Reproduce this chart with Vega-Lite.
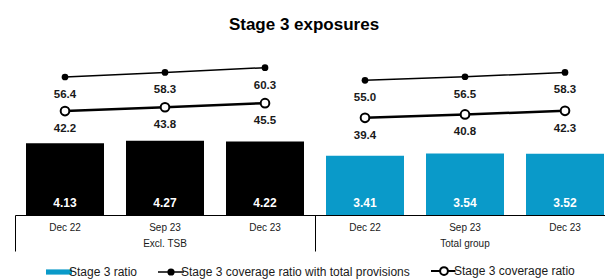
{
  "$schema": "https://vega.github.io/schema/vega-lite/v6.json",
  "width": 600,
  "height": 174,
  "padding": {"left": 14, "top": 16, "right": 0, "bottom": 0},
  "background": "white",
  "title": {"text": "Stage 3 exposures", "fontSize": 17, "font": "Liberation Sans", "fontWeight": "bold", "color": "#000000", "anchor": "middle", "dx": -11, "offset": 7},
  "config": {"view": {"stroke": null}, "font": "Liberation Sans"},
  "data": {"values": [
    {"bar": "Excl. TSB Dec 22", "group": "Excl. TSB", "series": "Stage 3 ratio", "value": 4.13},
    {"bar": "Excl. TSB Sep 23", "group": "Excl. TSB", "series": "Stage 3 ratio", "value": 4.27},
    {"bar": "Excl. TSB Dec 23", "group": "Excl. TSB", "series": "Stage 3 ratio", "value": 4.22},
    {"bar": "Total group Dec 22", "group": "Total group", "series": "Stage 3 ratio", "value": 3.41},
    {"bar": "Total group Sep 23", "group": "Total group", "series": "Stage 3 ratio", "value": 3.54},
    {"bar": "Total group Dec 23", "group": "Total group", "series": "Stage 3 ratio", "value": 3.52},
    {"bar": "Excl. TSB Dec 22", "group": "Excl. TSB", "series": "Stage 3 coverage ratio with total provisions", "value": 56.4},
    {"bar": "Excl. TSB Sep 23", "group": "Excl. TSB", "series": "Stage 3 coverage ratio with total provisions", "value": 58.3},
    {"bar": "Excl. TSB Dec 23", "group": "Excl. TSB", "series": "Stage 3 coverage ratio with total provisions", "value": 60.3},
    {"bar": "Total group Dec 22", "group": "Total group", "series": "Stage 3 coverage ratio with total provisions", "value": 55.0},
    {"bar": "Total group Sep 23", "group": "Total group", "series": "Stage 3 coverage ratio with total provisions", "value": 56.5},
    {"bar": "Total group Dec 23", "group": "Total group", "series": "Stage 3 coverage ratio with total provisions", "value": 58.3},
    {"bar": "Excl. TSB Dec 22", "group": "Excl. TSB", "series": "Stage 3 coverage ratio", "value": 42.2},
    {"bar": "Excl. TSB Sep 23", "group": "Excl. TSB", "series": "Stage 3 coverage ratio", "value": 43.8},
    {"bar": "Excl. TSB Dec 23", "group": "Excl. TSB", "series": "Stage 3 coverage ratio", "value": 45.5},
    {"bar": "Total group Dec 22", "group": "Total group", "series": "Stage 3 coverage ratio", "value": 39.4},
    {"bar": "Total group Sep 23", "group": "Total group", "series": "Stage 3 coverage ratio", "value": 40.8},
    {"bar": "Total group Dec 23", "group": "Total group", "series": "Stage 3 coverage ratio", "value": 42.3}
  ]},
  "encoding": {
    "x": {
      "field": "bar", "type": "nominal", "sort": null, "title": null,
      "scale": {"paddingInner": 0, "paddingOuter": 0},
      "axis": {
        "domainColor": "#000000", "domainWidth": 1,
        "bandPosition": 0,
        "tickSize": 36, "tickColor": "#000000", "tickWidth": 1,
        "tickOpacity": {"expr": "indexof(datum.value, 'Dec 22') >= 0 ? 1 : 0"},
        "labelAngle": 0, "labelFontSize": 10, "labelColor": "#1a1a1a", "labelFont": "Liberation Sans",
        "labelPadding": -24, "labelLineHeight": 16.5, "labelOverlap": false, "labelBound": false,
        "labelBaseline": "middle",
        "labelExpr": "indexof(datum.value, 'Sep 23') >= 0 ? [substring(datum.value, length(datum.value) - 6), substring(datum.value, 0, length(datum.value) - 7)] : substring(datum.value, length(datum.value) - 6)"
      }
    }
  },
  "layer": [
    {
      "transform": [{"filter": "datum.series == 'Stage 3 ratio'"}],
      "layer": [
        {
          "mark": {"type": "bar", "width": {"band": 0.78}},
          "encoding": {
            "y": {"field": "value", "type": "quantitative", "scale": {"domain": [0, 10]}, "axis": null},
            "color": {
              "condition": {"test": "datum.group == 'Excl. TSB'", "value": "#000000"},
              "field": "series", "type": "nominal",
              "scale": {"domain": ["Stage 3 ratio", "Stage 3 coverage ratio with total provisions", "Stage 3 coverage ratio"], "range": ["#0A9AC9", "#000000", "#ffffff"]},
              "legend": {
                "title": null, "orient": "none", "direction": "horizontal", "legendX": 30, "legendY": 224,
                "labelFontSize": 12, "labelFont": "Liberation Sans", "labelColor": "#1a1a1a", "labelOffset": 12, "labelLimit": 400,
                "columnPadding": 16, "symbolSize": 676, "symbolStrokeWidth": 2,
                "encode": {
                  "symbols": {"update": {
                    "shape": {"signal": "datum.value == 'Stage 3 ratio' ? 'M-0.385,-0.2H1.615V0.2H-0.385Z' : datum.value == 'Stage 3 coverage ratio' ? 'M-0.385,0H0.315M0.915,0H1.5M0.315,0A0.3,0.3 0 1,0 0.915,0A0.3,0.3 0 1,0 0.315,0Z' : 'M-0.385,0H1.615M0.395,0A0.22,0.22 0 1,0 0.835,0A0.22,0.22 0 1,0 0.395,0Z'"},
                    "fill": {"signal": "datum.value == 'Stage 3 ratio' ? '#0A9AC9' : datum.value == 'Stage 3 coverage ratio' ? '#ffffff' : '#000000'"},
                    "stroke": {"signal": "datum.value == 'Stage 3 ratio' ? '#0A9AC9' : '#000000'"},
                    "strokeWidth": {"signal": "datum.value == 'Stage 3 ratio' ? 0 : datum.value == 'Stage 3 coverage ratio' ? 2 : 1.5"},
                    "opacity": {"value": 1}
                  }}
                }
              }
            }
          }
        },
        {
          "mark": {"type": "text", "color": "#ffffff", "fontWeight": "bold", "fontSize": 12, "font": "Liberation Sans", "baseline": "middle", "dy": -12},
          "encoding": {
            "y": {"datum": 0, "type": "quantitative", "scale": {"domain": [0, 10]}},
            "text": {"field": "value", "type": "quantitative", "format": ".2f"}
          }
        }
      ]
    },
    {
      "transform": [{"filter": "datum.series != 'Stage 3 ratio'"}],
      "encoding": {
        "y": {"field": "value", "type": "quantitative", "scale": {"domain": [-1.1, 71.4], "zero": false}, "axis": null}
      },
      "layer": [
        {
          "transform": [{"filter": "datum.series == 'Stage 3 coverage ratio with total provisions'"}],
          "mark": {"type": "line", "color": "#000000", "strokeWidth": 1.5},
          "encoding": {"detail": {"field": "group"}}
        },
        {
          "transform": [{"filter": "datum.series == 'Stage 3 coverage ratio with total provisions'"}],
          "mark": {"type": "point", "filled": true, "color": "#000000", "size": 45, "opacity": 1}
        },
        {
          "transform": [{"filter": "datum.series == 'Stage 3 coverage ratio'"}],
          "mark": {"type": "line", "color": "#000000", "strokeWidth": 2.5},
          "encoding": {"detail": {"field": "group"}}
        },
        {
          "transform": [{"filter": "datum.series == 'Stage 3 coverage ratio'"}],
          "mark": {"type": "point", "filled": true, "fill": "#ffffff", "stroke": "#000000", "strokeWidth": 2, "size": 75, "opacity": 1}
        },
        {
          "mark": {"type": "text", "color": "#1a1a1a", "fontWeight": "bold", "fontSize": 11.5, "font": "Liberation Sans", "baseline": "middle", "dy": 18},
          "encoding": {"text": {"field": "value", "type": "quantitative", "format": ".1f"}}
        }
      ]
    }
  ],
  "resolve": {"scale": {"y": "independent"}}
}
